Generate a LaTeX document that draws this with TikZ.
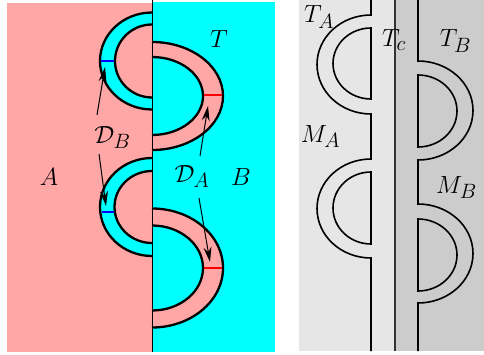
\documentclass[tikz,border=0pt]{standalone}
\usetikzlibrary{arrows.meta}
\definecolor{pinkA}{RGB}{255,166,166}
\definecolor{cyanB}{RGB}{0,255,255}
\definecolor{lgray}{RGB}{230,230,230}
\definecolor{dgray}{RGB}{204,204,204}
\begin{document}
\begin{tikzpicture}[x=1pt,y=1pt,
  handle/.style={line width=2.3pt},
  thinline/.style={line width=0.8pt},
  strand/.style={line width=1.6pt},
  lab/.style={font=\fontsize{28}{32}\selectfont, inner sep=0pt, anchor=base},
  ptr/.style={line width=1pt, -{Stealth[length=15pt,width=8pt,inset=5pt]}}]
\useasboundingbox (0,0) rectangle (484,354);
% ---------- left panel ----------
\fill[pinkA] (7,2) rectangle (152,351);
\fill[cyanB] (152,2) rectangle (275,352);
% top-left handle (cyan ring)
\fill[cyanB] (152,341.5) arc[start angle=90,end angle=270,x radius=52,y radius=48.5] -- (152,256.5) arc[start angle=270,end angle=90,x radius=37,y radius=36.5] -- cycle;
% bottom-left handle
\fill[cyanB] (152,196) arc[start angle=90,end angle=270,x radius=52,y radius=49] -- (152,111) arc[start angle=270,end angle=90,x radius=37.5,y radius=36] -- cycle;
% top-right handle (pink ring)
\fill[pinkA] (152,312) arc[start angle=90,end angle=-90,x radius=71,y radius=54] -- (152,219) arc[start angle=-90,end angle=90,x radius=51,y radius=39] -- cycle;
% bottom-right handle
\fill[pinkA] (152,145.5) arc[start angle=90,end angle=-90,x radius=71,y radius=59.5] -- (152,43.5) arc[start angle=-90,end angle=90,x radius=51,y radius=42.5] -- cycle;
\draw[thinline] (152,354) -- (152,2);
\draw[handle] (152,341.5) arc[start angle=90,end angle=270,x radius=52,y radius=48.5];
\draw[handle] (152,329.5) arc[start angle=90,end angle=270,x radius=37,y radius=36.5];
\draw[handle] (152,196) arc[start angle=90,end angle=270,x radius=52,y radius=49];
\draw[handle] (152,183) arc[start angle=90,end angle=270,x radius=37.5,y radius=36];
\draw[handle] (152,312) arc[start angle=90,end angle=-90,x radius=71,y radius=54];
\draw[handle] (152,297) arc[start angle=90,end angle=-90,x radius=51,y radius=39];
\draw[handle] (152,145.5) arc[start angle=90,end angle=-90,x radius=71,y radius=59.5];
\draw[handle] (152,128.5) arc[start angle=90,end angle=-90,x radius=51,y radius=42.5];
\draw[handle,blue] (101,293) -- (114,293);
\draw[handle,blue] (101.5,142) -- (114,142);
\draw[handle,red] (204,259) -- (222,259);
\draw[handle,red] (204,86) -- (222,86);
\node[lab] (A) at (49,169) {$A$};
\node[lab] (B) at (241,169) {$B$};
\node[lab] (T) at (219,306) {$T$};
\node[lab] (DB) at (112.5,211) {$\mathcal{D}_B$};
\node[lab] (DA) at (192,172) {$\mathcal{D}_A$};
\coordinate (b1s) at (97,239);  \coordinate (b1e) at (105,287);
\coordinate (b2s) at (99,200);  \coordinate (b2e) at (106,148);
\coordinate (a1s) at (200,198); \coordinate (a1e) at (208,248);
\coordinate (a2s) at (199,156); \coordinate (a2e) at (210,92);
\draw[ptr] (b1s) -- (b1e);
\draw[ptr] (b2s) -- (b2e);
\draw[ptr] (a1s) -- (a1e);
\draw[ptr] (a2s) -- (a2e);
% ---------- right panel ----------
\fill[lgray] (299,3) rectangle (395,354);
\fill[dgray] (395,3) rectangle (484,354);
\draw[line width=1.1pt, black!80] (395,354) -- (395,3);
% strand A
\draw[strand] (371,354) -- (371,339) arc[start angle=90,end angle=270,x radius=54,y radius=49.5] -- (371,195) arc[start angle=90,end angle=270,x radius=54,y radius=49.5] -- (371,3);
\draw[strand] (371,326) arc[start angle=90,end angle=270,x radius=38,y radius=35.5] -- cycle;
\draw[strand] (371,182) arc[start angle=90,end angle=270,x radius=38,y radius=36] -- cycle;
% strand B
\draw[strand] (418,354) -- (418,293) arc[start angle=90,end angle=-90,x radius=55,y radius=49.5] -- (418,150) arc[start angle=90,end angle=-90,x radius=55,y radius=49.5] -- (418,3);
\draw[strand] (418,279) arc[start angle=90,end angle=-90,x radius=39,y radius=36] -- cycle;
\draw[strand] (418,135) arc[start angle=90,end angle=-90,x radius=39,y radius=36] -- cycle;
\node[lab] (TA) at (319,331) {$T_A$};
\node[lab] (Tc) at (394,307) {$T_c$};
\node[lab] (TB) at (455.5,307) {$T_B$};
\node[lab] (MA) at (320.5,212) {$M_A$};
\node[lab] (MB) at (456.5,161) {$M_B$};
\end{tikzpicture}
\end{document}
